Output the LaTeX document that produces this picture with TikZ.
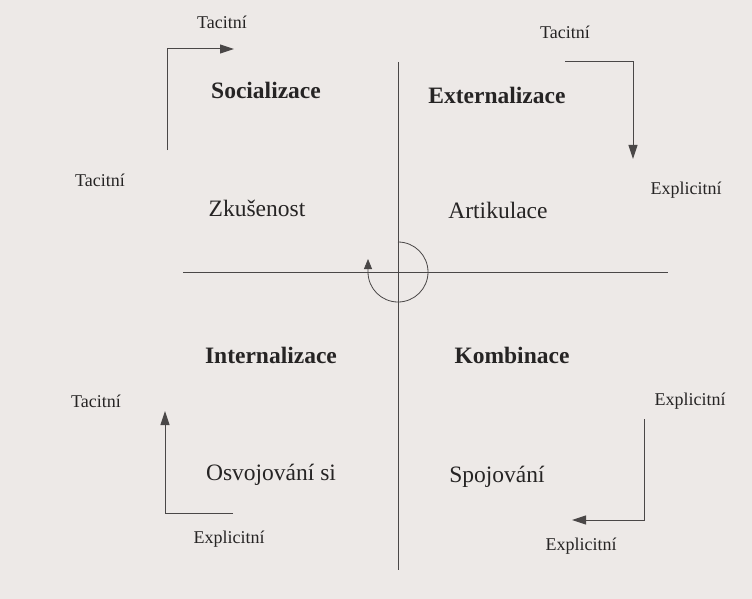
\documentclass[tikz,border=0pt]{standalone}
\usepackage{fontspec}
\setmainfont{Liberation Serif}
\usetikzlibrary{arrows.meta}
\definecolor{paper}{HTML}{EDE9E7}
\definecolor{ink}{HTML}{262424}
\definecolor{linec}{HTML}{4A4747}
\begin{document}
\begin{tikzpicture}[x=1pt,y=-1pt,
  mode/.style={font=\bfseries\fontsize{23.5}{28}\selectfont,text=ink,inner sep=0pt},
  act/.style={font=\fontsize{23.5}{28}\selectfont,text=ink,inner sep=0pt},
  kind/.style={font=\fontsize{18}{21}\selectfont,text=ink,inner sep=0pt},
  axis/.style={draw=linec,line width=0.9pt},
  flow/.style={draw=linec,line width=1pt,-{Triangle[length=14pt,width=9pt]}}]
\fill[paper] (0,0) rectangle (752,599);
\useasboundingbox (0,0) rectangle (752,599);
% axes
\coordinate (hl) at (183,272);
\coordinate (hr) at (668,272);
\coordinate (vt) at (398,62);
\coordinate (vb) at (398,570);
\draw[axis] (hl) -- (hr);
\draw[axis] (vt) -- (vb);
% centre circle
\coordinate (cs) at (398,242);
\coordinate (ctip) at (368,259);
\draw[draw=linec,line width=0.8pt,-{Triangle[length=10pt,width=8pt]}] (cs) arc[start angle=-90,end angle=180,radius=30] -- (ctip);
% quadrant labels
\node[mode] (soc) at (266,90) {Socializace};
\node[mode] (ext) at (497,95) {Externalizace};
\node[act] (zku) at (257,208) {Zkušenost};
\node[act] (art) at (498,210) {Artikulace};
\node[mode] (int) at (271,355) {Internalizace};
\node[mode] (kom) at (512,355) {Kombinace};
\node[act] (osv) at (271,475) {Osvojování si};
\node[act] (spo) at (497,477) {Spojování};
% small labels
\node[kind] (t1) at (222,22) {Tacitní};
\node[kind] (t2) at (565,32) {Tacitní};
\node[kind] (t3) at (100,180) {Tacitní};
\node[kind] (e1) at (686,190) {Explicitní};
\node[kind] (t4) at (96,401) {Tacitní};
\node[kind] (e2) at (690,401) {Explicitní};
\node[kind] (e3) at (229,539) {Explicitní};
\node[kind] (e4) at (581,546) {Explicitní};
% flow arrows
\coordinate (a1s) at (167,150);
\coordinate (a1c) at (167,49);
\coordinate (a1e) at (234,49);
\draw[flow] (a1s) -- (a1c) -- (a1e);
\coordinate (a2s) at (565,62);
\coordinate (a2c) at (633,62);
\coordinate (a2e) at (633,159);
\draw[flow] (a2s) -- (a2c) -- (a2e);
\coordinate (a3s) at (233,513);
\coordinate (a3c) at (165,513);
\coordinate (a3e) at (165,411);
\draw[flow] (a3s) -- (a3c) -- (a3e);
\coordinate (a4s) at (644,419);
\coordinate (a4c) at (644,520);
\coordinate (a4e) at (572,520);
\draw[flow] (a4s) -- (a4c) -- (a4e);
\end{tikzpicture}
\end{document}
